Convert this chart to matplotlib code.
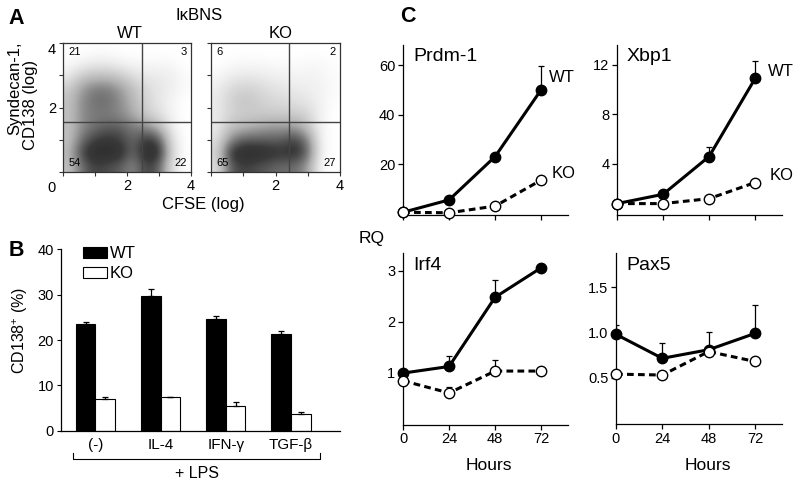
import matplotlib
matplotlib.use('Agg')
import matplotlib.pyplot as plt
import numpy as np
from matplotlib.colors import LinearSegmentedColormap
from matplotlib.patches import Rectangle

plt.rcParams['font.family'] = ['Liberation Sans', 'DejaVu Sans']
plt.rcParams['mathtext.fontset'] = 'custom'
plt.rcParams['mathtext.rm'] = 'Liberation Sans'
plt.rcParams['mathtext.default'] = 'regular'

# ---------------- data ----------------
# Panel A: estimated dot density (rows: y = 0.2 ... 3.8, cols: x = 0.2 ... 3.8)
wt_density = [
    [0.30, 0.60, 0.75, 0.70, 0.65, 0.50, 0.75, 0.65, 0.15, 0.00],
    [0.35, 0.75, 0.90, 0.90, 0.85, 0.60, 0.90, 0.85, 0.20, 0.00],
    [0.30, 0.60, 0.75, 0.80, 0.75, 0.60, 0.80, 0.70, 0.15, 0.00],
    [0.30, 0.50, 0.60, 0.65, 0.65, 0.55, 0.50, 0.35, 0.08, 0.00],
    [0.30, 0.50, 0.55, 0.55, 0.50, 0.40, 0.25, 0.15, 0.05, 0.00],
    [0.30, 0.50, 0.60, 0.60, 0.50, 0.35, 0.20, 0.12, 0.05, 0.00],
    [0.25, 0.45, 0.55, 0.55, 0.45, 0.30, 0.18, 0.12, 0.08, 0.02],
    [0.10, 0.25, 0.30, 0.30, 0.25, 0.15, 0.10, 0.10, 0.08, 0.02],
    [0.02, 0.05, 0.08, 0.08, 0.05, 0.03, 0.03, 0.03, 0.03, 0.00],
    [0.00, 0.00, 0.01, 0.01, 0.00, 0.00, 0.00, 0.00, 0.00, 0.00],
]
ko_density = [
    [0.15, 0.65, 0.75, 0.70, 0.65, 0.60, 0.60, 0.45, 0.02, 0.00],
    [0.20, 0.80, 0.90, 0.90, 0.85, 0.80, 0.85, 0.65, 0.05, 0.00],
    [0.15, 0.50, 0.65, 0.65, 0.65, 0.65, 0.75, 0.55, 0.05, 0.00],
    [0.10, 0.30, 0.35, 0.40, 0.45, 0.45, 0.45, 0.30, 0.05, 0.00],
    [0.10, 0.20, 0.25, 0.25, 0.25, 0.25, 0.25, 0.20, 0.06, 0.00],
    [0.10, 0.22, 0.28, 0.25, 0.20, 0.18, 0.15, 0.12, 0.06, 0.01],
    [0.08, 0.18, 0.22, 0.20, 0.15, 0.12, 0.10, 0.08, 0.06, 0.02],
    [0.03, 0.08, 0.10, 0.10, 0.08, 0.06, 0.05, 0.06, 0.05, 0.02],
    [0.00, 0.02, 0.03, 0.03, 0.02, 0.02, 0.02, 0.03, 0.03, 0.01],
    [0.00, 0.00, 0.00, 0.00, 0.00, 0.00, 0.00, 0.00, 0.00, 0.00],
]
wt_gate_x, ko_gate_x, gate_y = 2.47, 2.42, 1.55
wt_quadrants = ['21', '3', '54', '22']   # UL, UR, LL, LR
ko_quadrants = ['6', '2', '65', '27']

# Panel B
categories = ['(-)', 'IL-4', 'IFN-γ', 'TGF-β']
b_wt = [23.5, 29.7, 24.7, 21.3]
b_wt_err = [0.4, 1.5, 0.6, 0.6]
b_ko = [6.9, 7.4, 5.4, 3.6]
b_ko_err = [0.5, 0.1, 0.9, 0.5]

# Panel C
hours = [0, 24, 48, 72]
prdm1_wt = [0.5, 5.5, 23, 50];      prdm1_wt_err = [0, 0, 0, 9.7]
prdm1_ko = [0.5, 0.3, 3.0, 13.5];   prdm1_ko_err = [0, 0, 0, 0]
xbp1_wt = [0.8, 1.55, 4.6, 10.9];   xbp1_wt_err = [0, 0, 0.8, 1.4]
xbp1_ko = [0.8, 0.8, 1.2, 2.5];     xbp1_ko_err = [0, 0, 0, 0]
irf4_wt = [0.99, 1.12, 2.48, 3.06]; irf4_wt_err = [0, 0.21, 0.34, 0]
irf4_ko = [0.84, 0.60, 1.03, 1.03]; irf4_ko_err = [0, 0.12, 0.21, 0]
pax5_wt = [0.98, 0.715, 0.81, 0.99]; pax5_wt_err = [0.10, 0.17, 0.20, 0.31]
pax5_ko = [0.54, 0.53, 0.79, 0.68];  pax5_ko_err = [0, 0, 0, 0]

# ---------------- figure ----------------
W, H = 800, 482
fig = plt.figure(figsize=(8, 4.82), dpi=100)


def ax_px(l, t, r, b):
    return fig.add_axes([l / W, 1 - b / H, (r - l) / W, (b - t) / H])


def txt(x, y, s, **kw):
    kw.setdefault('ha', 'center')
    kw.setdefault('va', 'center')
    fig.text(x / W, 1 - y / H, s, **kw)


# ---------- Panel A ----------
frame_col = '#333333'
dens_cmap = LinearSegmentedColormap.from_list('dens', ['#ffffff', '#b0b0b0', '#3a3a3a', '#101010'])
for l, r, dens, gx, quads, show_y in [(63, 191, wt_density, wt_gate_x, wt_quadrants, True),
                                      (211, 340, ko_density, ko_gate_x, ko_quadrants, False)]:
    ax = ax_px(l, 43, r, 172)
    ax.imshow(np.array(dens), extent=(0, 4, 0, 4), origin='lower', cmap=dens_cmap,
              vmin=0, vmax=1.15, interpolation='bicubic', aspect='auto')
    ax.axvline(gx, color='#444444', lw=1.0)
    ax.axhline(gate_y, color='#444444', lw=1.0)
    ax.set_xlim(0, 4)
    ax.set_ylim(0, 4)
    for s in ax.spines.values():
        s.set_color(frame_col)
        s.set_linewidth(0.9)
    ax.set_xticks([0, 1, 2, 3, 4])
    ax.set_yticks([0, 1, 2, 3, 4])
    ax.set_xticklabels(['', '', '2', '', '4'], fontsize=10.5)
    if show_y:
        ax.set_yticklabels(['', '', '2', '', '4'], fontsize=10.5)
        ax.get_yticklabels()[4].set_va('top')
    else:
        ax.set_yticklabels([])
    ax.tick_params(direction='out', length=3, width=0.8, color=frame_col, pad=2)
    fs = 8
    ax.text(0.04, 0.97, quads[0], transform=ax.transAxes, ha='left', va='top', fontsize=fs)
    ax.text(0.97, 0.97, quads[1], transform=ax.transAxes, ha='right', va='top', fontsize=fs)
    ax.text(0.04, 0.03, quads[2], transform=ax.transAxes, ha='left', va='bottom', fontsize=fs)
    ax.text(0.97, 0.03, quads[3], transform=ax.transAxes, ha='right', va='bottom', fontsize=fs)

txt(16, 19, 'A', fontsize=15.5, fontweight='bold')
txt(199, 16, 'IκBNS', fontsize=12)
txt(130, 34, 'WT', fontsize=12)
txt(281, 34, 'KO', fontsize=12)
txt(51, 188, '0', fontsize=10.5)
txt(203, 205, 'CFSE (log)', fontsize=12)
txt(15, 88, 'Syndecan-1,', fontsize=12, rotation=90)
txt(30, 105, 'CD138 (log)', fontsize=12, rotation=90)

# ---------- Panel B ----------
axb = ax_px(61, 249.3, 340, 430.7)
x = np.arange(len(categories))
bw = 0.3
axb.bar(x - bw / 2, b_wt, bw, color='black', edgecolor='black', lw=0.8)
axb.bar(x + bw / 2, b_ko, bw, color='white', edgecolor='black', lw=0.8)
axb.errorbar(x - bw / 2, b_wt, yerr=[np.zeros(4), b_wt_err], fmt='none', ecolor='black',
             elinewidth=0.9, capsize=2.5, capthick=0.9)
axb.errorbar(x + bw / 2, b_ko, yerr=[np.zeros(4), b_ko_err], fmt='none', ecolor='black',
             elinewidth=0.9, capsize=2.5, capthick=0.9)
axb.set_xlim(-0.526, 3.75)
axb.set_ylim(0, 40)
axb.set_yticks([0, 10, 20, 30, 40])
axb.tick_params(axis='y', direction='out', length=3, width=0.8, labelsize=10.5, pad=2)
axb.set_xticks(x)
axb.set_xticklabels(categories, fontsize=11)
axb.tick_params(axis='x', length=0, pad=5)
for s in ['top', 'right']:
    axb.spines[s].set_visible(False)
for s in ['left', 'bottom']:
    axb.spines[s].set_linewidth(0.9)

# legend (manual)
fig.add_artist(Rectangle((83 / W, 1 - 258 / H), 24 / W, 11 / H, transform=fig.transFigure,
                         facecolor='black', edgecolor='black', lw=0.8))
fig.add_artist(Rectangle((83 / W, 1 - 278 / H), 24 / W, 11 / H, transform=fig.transFigure,
                         facecolor='white', edgecolor='black', lw=0.8))
txt(110, 253, 'WT', fontsize=12, ha='left')
txt(110, 273, 'KO', fontsize=12, ha='left')

# bracket
fig.add_artist(plt.Line2D([73 / W, 73 / W, 320 / W, 320 / W],
                          [1 - 453 / H, 1 - 459 / H, 1 - 459 / H, 1 - 453 / H],
                          transform=fig.transFigure, color='black', lw=0.8))
txt(197, 473, '+ LPS', fontsize=11.5)
txt(16, 250, 'B', fontsize=15.5, fontweight='bold')
txt(20, 330, 'CD138$^{+}$ (%)', fontsize=11.5, rotation=90)

# ---------- Panel C ----------
def line_panel(l, t, r, b, ylim, yticks, yticklabels, wt, wt_err, ko, ko_err, title, show_hours):
    ax = ax_px(l, t, r, b)
    ax.errorbar(hours, wt, yerr=[np.zeros(4), wt_err], fmt='none', ecolor='black',
                elinewidth=0.9, capsize=2.5, capthick=0.9, zorder=2)
    ax.errorbar(hours, ko, yerr=[np.zeros(4), ko_err], fmt='none', ecolor='black',
                elinewidth=0.9, capsize=2.5, capthick=0.9, zorder=2)
    ax.plot(hours, wt, '-', color='black', lw=2.2, marker='o', ms=7.5, mfc='black',
            mec='black', mew=1, clip_on=False, zorder=3)
    ax.plot(hours, ko, '--', color='black', lw=2.2, dashes=(2.2, 1.4), marker='o', ms=7.5,
            mfc='white', mec='black', mew=1, clip_on=False, zorder=4)
    ax.set_xlim(0, 86)
    ax.set_ylim(*ylim)
    ax.set_xticks(hours)
    if show_hours:
        ax.set_xticklabels([str(h) for h in hours], fontsize=10.5)
    else:
        ax.set_xticklabels([])
    ax.set_yticks(yticks)
    ax.set_yticklabels(yticklabels, fontsize=10.5)
    ax.tick_params(direction='out', length=3.5, width=0.9, pad=2)
    for s in ['top', 'right']:
        ax.spines[s].set_visible(False)
    for s in ['left', 'bottom']:
        ax.spines[s].set_linewidth(0.9)
    ax.text(10 / (r - l), 1 - 12 / (b - t), title, transform=ax.transAxes,
            ha='left', va='center', fontsize=14)
    return ax


line_panel(403, 45, 568, 215, (-0.6, 68.1), [20, 40, 60], ['20', '40', '60'],
           prdm1_wt, prdm1_wt_err, prdm1_ko, prdm1_ko_err, 'Prdm-1', False)
line_panel(617, 45, 782, 215, (-0.12, 13.6), [4, 8, 12], ['4', '8', '12'],
           xbp1_wt, xbp1_wt_err, xbp1_ko, xbp1_ko_err, 'Xbp1', False)
line_panel(403, 253, 568, 424.5, (-0.02, 3.35), [1, 2, 3], ['1', '2', '3'],
           irf4_wt, irf4_wt_err, irf4_ko, irf4_ko_err, 'Irf4', True)
line_panel(616, 253, 782, 424.3, (-0.015, 1.88), [0.5, 1.0, 1.5], ['0.5', '1.0', '1.5'],
           pax5_wt, pax5_wt_err, pax5_ko, pax5_ko_err, 'Pax5', True)

txt(562, 78, 'WT', fontsize=12)
txt(564, 173, 'KO', fontsize=12)
txt(781, 72, 'WT', fontsize=12)
txt(782, 175, 'KO', fontsize=12)
txt(489, 465, 'Hours', fontsize=12.5)
txt(708, 465, 'Hours', fontsize=12.5)
txt(372, 239, 'RQ', fontsize=12.5)
txt(408, 16, 'C', fontsize=15.5, fontweight='bold')

fig.savefig('out.png', dpi=100)
